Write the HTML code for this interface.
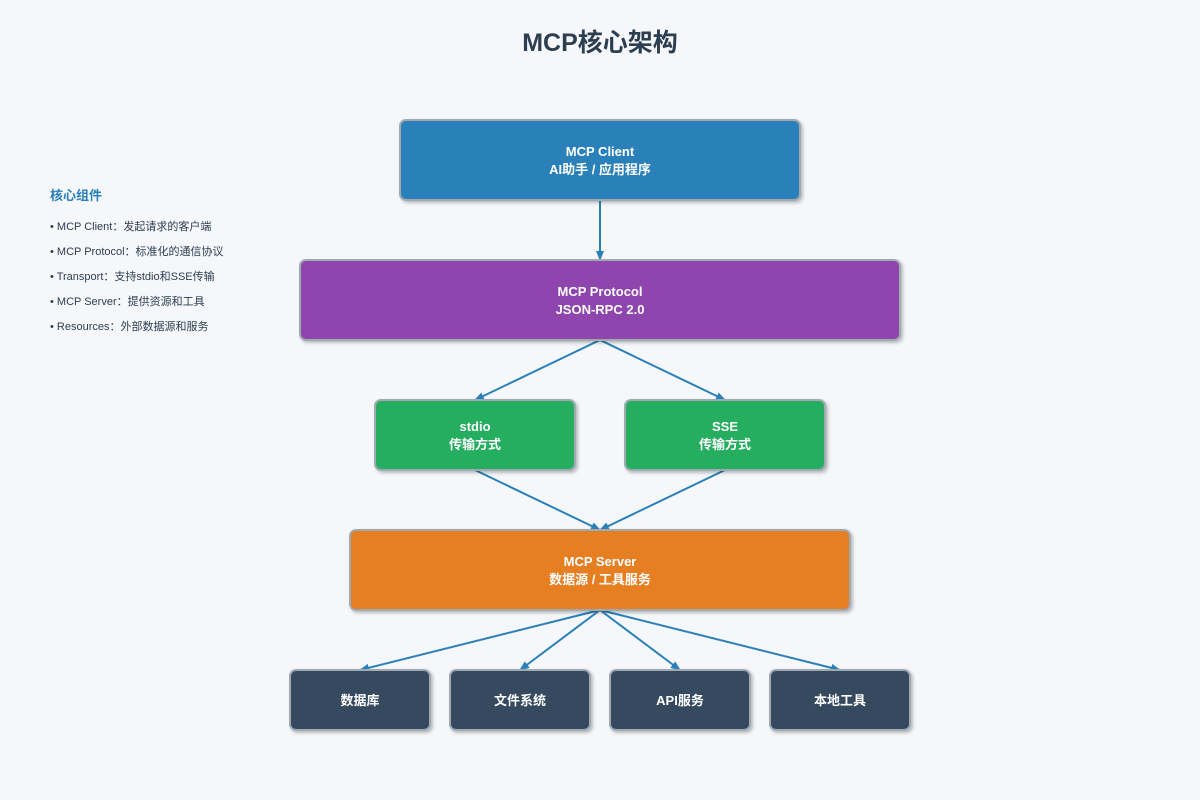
<!DOCTYPE html>
<html><head><meta charset="utf-8"><style>
html,body{margin:0;padding:0;background:#f5f7fa;}
svg{display:block;font-family:"Liberation Sans","Noto Sans CJK SC",sans-serif;}
.t{fill:#fff;font-size:13px;font-weight:bold;text-anchor:middle;}
.l{fill:#2c3e50;font-size:11px;}
</style></head><body>
<svg width="1200" height="800" viewBox="0 0 1200 800">
<defs>
<marker id="a" markerWidth="10" markerHeight="8" refX="9" refY="4" orient="auto" markerUnits="userSpaceOnUse"><path d="M0,0 L10,4 L0,8 Z" fill="#2980b9"/></marker>
<filter id="s" x="-10%" y="-10%" width="130%" height="140%"><feDropShadow dx="2" dy="2" stdDeviation="1.5" flood-color="#000" flood-opacity="0.25"/></filter>
</defs>
<rect width="1200" height="800" fill="#f5f7fa"/>
<text x="600" y="51" text-anchor="middle" font-size="25" font-weight="bold" fill="#2c3e50">MCP核心架构</text>

<text x="50" y="200" font-size="13" font-weight="bold" fill="#2980b9">核心组件</text>
<text class="l" x="50" y="230">• MCP Client：发起请求的客户端</text>
<text class="l" x="50" y="255">• MCP Protocol：标准化的通信协议</text>
<text class="l" x="50" y="280">• Transport：支持stdio和SSE传输</text>
<text class="l" x="50" y="305">• MCP Server：提供资源和工具</text>
<text class="l" x="50" y="330">• Resources：外部数据源和服务</text>

<g stroke="#2980b9" stroke-width="2" marker-end="url(#a)">
<line x1="600" y1="200" x2="600" y2="260"/>
<line x1="600" y1="340" x2="475" y2="400"/>
<line x1="600" y1="340" x2="725" y2="400"/>
<line x1="475" y1="470" x2="600" y2="530"/>
<line x1="725" y1="470" x2="600" y2="530"/>
<line x1="600" y1="610" x2="360" y2="670"/>
<line x1="600" y1="610" x2="520" y2="670"/>
<line x1="600" y1="610" x2="680" y2="670"/>
<line x1="600" y1="610" x2="840" y2="670"/>
</g>

<g stroke="#a0aab0" stroke-width="2" filter="url(#s)">
<rect x="400" y="120" width="400" height="80" rx="6" fill="#2980b9"/>
<rect x="300" y="260" width="600" height="80" rx="6" fill="#8e44ad"/>
<rect x="375" y="400" width="200" height="70" rx="6" fill="#27ae60"/>
<rect x="625" y="400" width="200" height="70" rx="6" fill="#27ae60"/>
<rect x="350" y="530" width="500" height="80" rx="6" fill="#e67e22"/>
<rect x="290" y="670" width="140" height="60" rx="6" fill="#34495e"/>
<rect x="450" y="670" width="140" height="60" rx="6" fill="#34495e"/>
<rect x="610" y="670" width="140" height="60" rx="6" fill="#34495e"/>
<rect x="770" y="670" width="140" height="60" rx="6" fill="#34495e"/>
</g>

<text class="t" x="600" y="156">MCP Client</text>
<text class="t" x="600" y="174">AI助手 / 应用程序</text>
<text class="t" x="600" y="296">MCP Protocol</text>
<text class="t" x="600" y="314">JSON-RPC 2.0</text>
<text class="t" x="475" y="431">stdio</text>
<text class="t" x="475" y="449">传输方式</text>
<text class="t" x="725" y="431">SSE</text>
<text class="t" x="725" y="449">传输方式</text>
<text class="t" x="600" y="566">MCP Server</text>
<text class="t" x="600" y="584">数据源 / 工具服务</text>
<text class="t" x="360" y="705">数据库</text>
<text class="t" x="520" y="705">文件系统</text>
<text class="t" x="680" y="705">API服务</text>
<text class="t" x="840" y="705">本地工具</text>
</svg>
</body></html>
